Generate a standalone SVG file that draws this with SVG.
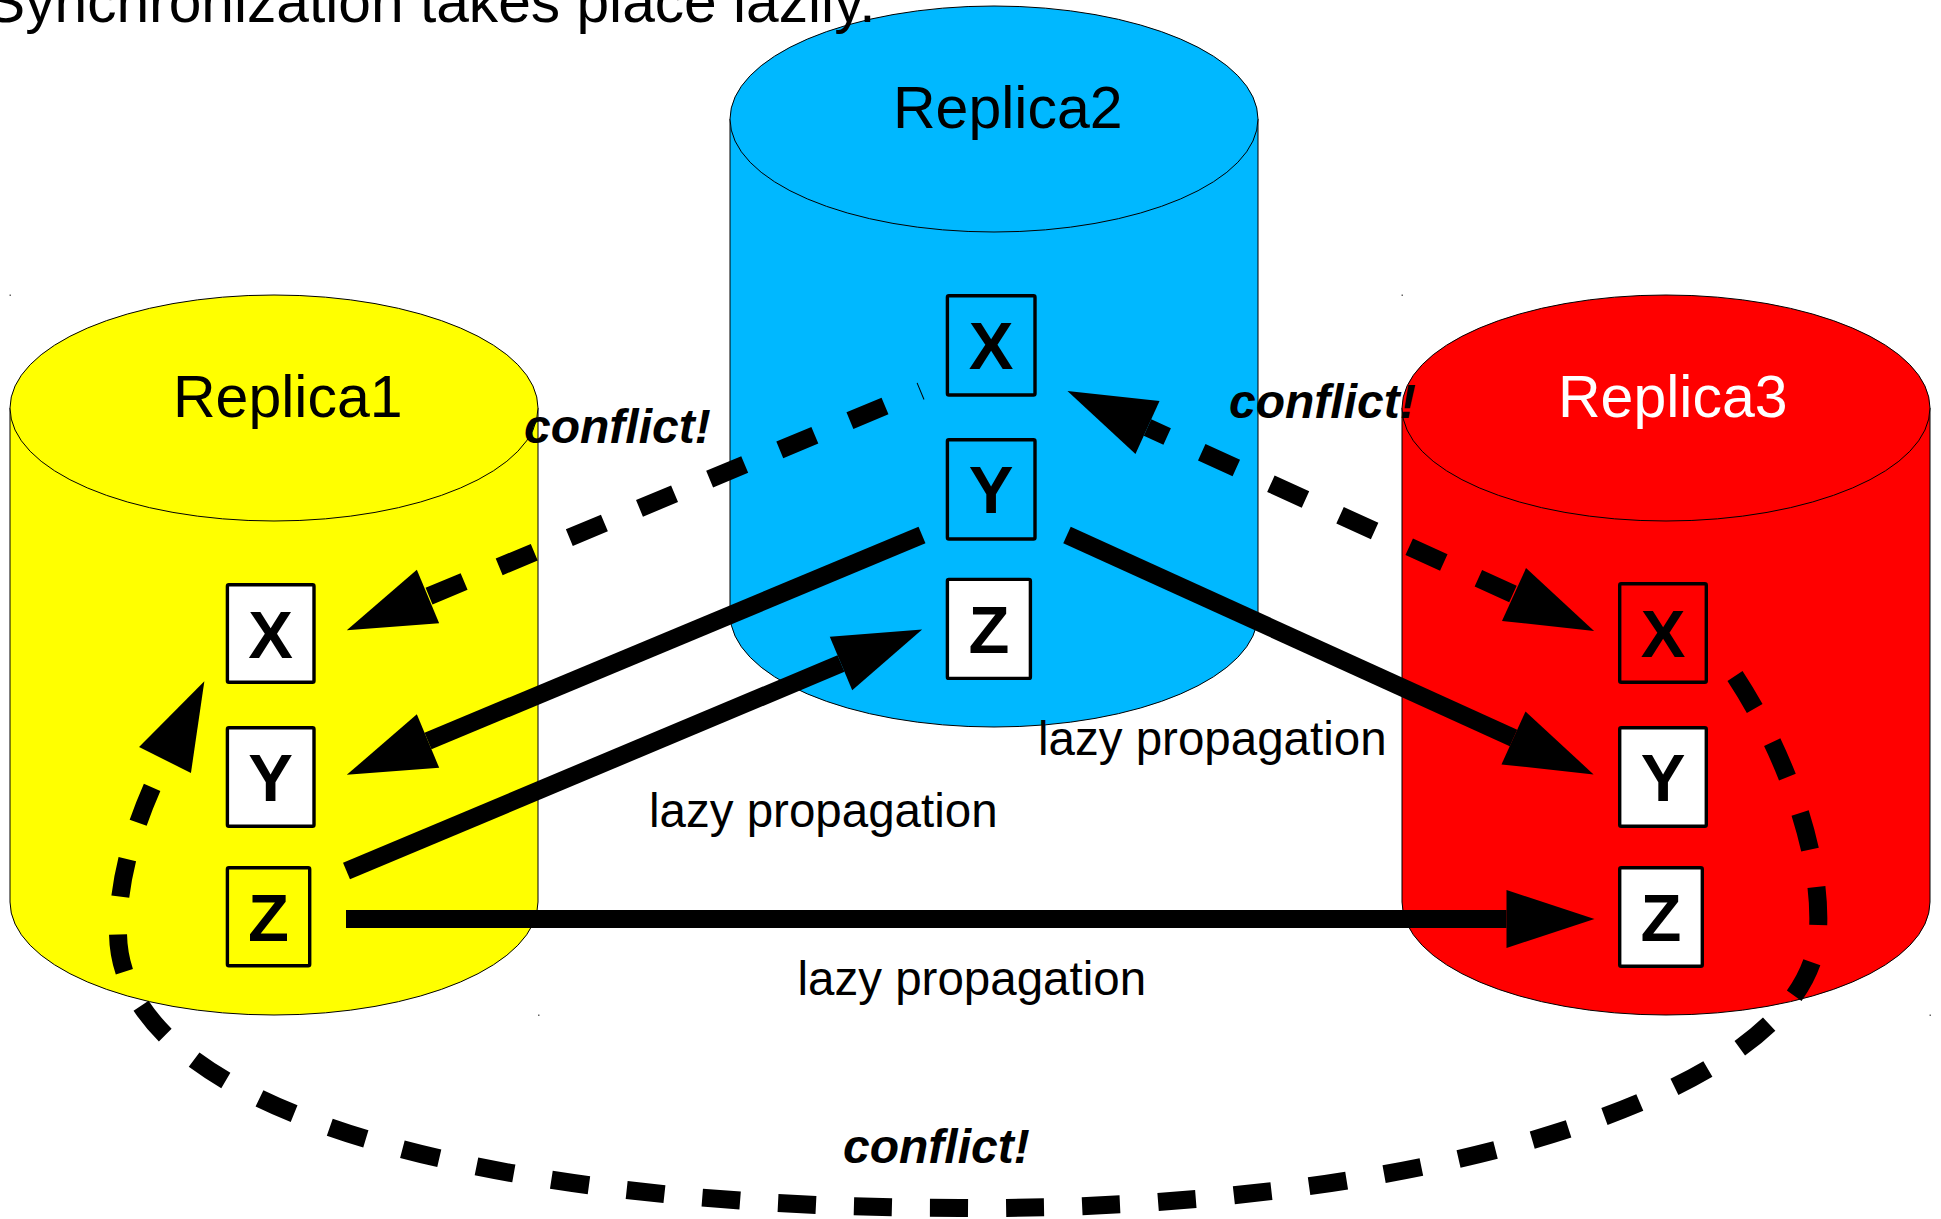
<svg xmlns="http://www.w3.org/2000/svg" width="1941" height="1219" viewBox="0 0 1941 1219">
  <style>
    .cyl { stroke: #000; stroke-width: 1; }
    .label { font-family: "Liberation Sans", Arial, sans-serif; font-size: 59px; }
    .item { fill: #fff; stroke: #000; stroke-width: 3.4; }
    .item.clear { fill: none; }
    .letter { font-family: "Liberation Sans", Arial, sans-serif; font-weight: bold; font-size: 67px; text-anchor: middle; fill: #000; }
    .solid { fill: none; stroke: #000; stroke-width: 18; stroke-linecap: butt; }
    .dashed { fill: none; stroke: #000; stroke-width: 18; stroke-linecap: butt; stroke-dasharray: 38 38; }
    .note { font-family: "Liberation Sans", Arial, sans-serif; font-size: 47.5px; fill: #000; }
    .conflict { font-family: "Liberation Sans", Arial, sans-serif; font-size: 48px; font-weight: bold; font-style: italic; fill: #000; }
    .dot { fill: #666; }
  </style>
  <defs>
    <marker id="head" markerUnits="userSpaceOnUse" markerWidth="88" markerHeight="58" refX="0" refY="29" orient="auto-start-reverse" overflow="visible">
      <path d="M0,0 L88,29 L0,58 Z" fill="#000"/>
    </marker>
  </defs>

  <rect width="1941" height="1219" fill="#fff"/>

  <!-- Replica1: yellow cylinder -->
  <g id="replica1">
    <path class="cyl" fill="#ffff00" d="M10,408 L10,902 A264,113 0 0 0 538,902 L538,408 Z"/>
    <ellipse class="cyl" fill="#ffff00" cx="274" cy="408" rx="264" ry="113"/>
    <text class="label" x="173" y="417">Replica1</text>
    <g id="r1-x"><rect class="item" x="227.4" y="584.7" width="86.6" height="97.6" rx="1.5"/><text class="letter" x="270.7" y="658">X</text></g>
    <g id="r1-y"><rect class="item" x="227.4" y="727.7" width="86.6" height="98.6" rx="1.5"/><text class="letter" x="270.7" y="801">Y</text></g>
    <g id="r1-z"><rect class="item clear" x="227.4" y="867.7" width="82.3" height="98" rx="1.5"/><text class="letter" x="268.5" y="941">Z</text></g>
  </g>

  <!-- Replica2: blue cylinder -->
  <g id="replica2">
    <path class="cyl" fill="#00b8ff" d="M730,119 L730,614 A264,113 0 0 0 1258,614 L1258,119 Z"/>
    <ellipse class="cyl" fill="#00b8ff" cx="994" cy="119" rx="264" ry="113"/>
    <text class="label" x="893" y="128">Replica2</text>
    <g id="r2-x"><rect class="item clear" x="947.4" y="295.7" width="87.6" height="99.3" rx="1.5"/><text class="letter" x="991.2" y="369">X</text></g>
    <g id="r2-y"><rect class="item clear" x="947.4" y="439.7" width="87.6" height="99.3" rx="1.5"/><text class="letter" x="991.2" y="513">Y</text></g>
    <g id="r2-z"><rect class="item" x="947.4" y="579.4" width="83" height="99" rx="1.5"/><text class="letter" x="989" y="653">Z</text></g>
  </g>

  <!-- Replica3: red cylinder -->
  <g id="replica3">
    <path class="cyl" fill="#ff0000" d="M1402,408 L1402,902 A264,113 0 0 0 1930,902 L1930,408 Z"/>
    <ellipse class="cyl" fill="#ff0000" cx="1666" cy="408" rx="264" ry="113"/>
    <text class="label" x="1558" y="417" fill="#fff">Replica3</text>
    <g id="r3-x"><rect class="item clear" x="1619.7" y="583.7" width="86.6" height="98.6" rx="1.5"/><text class="letter" x="1663" y="657">X</text></g>
    <g id="r3-y"><rect class="item" x="1619.7" y="727.7" width="86.6" height="98.6" rx="1.5"/><text class="letter" x="1663" y="801">Y</text></g>
    <g id="r3-z"><rect class="item" x="1619.7" y="867.7" width="82.6" height="98.6" rx="1.5"/><text class="letter" x="1661" y="941">Z</text></g>
  </g>

  <!-- propagation and conflict connectors -->
  <g id="connectors">
    <path class="solid" d="M922,535 L428,741" marker-end="url(#head)"/>
    <path class="solid" d="M346.5,871 L841,663.5" marker-end="url(#head)"/>
    <path class="solid" d="M1067,535 L1513.5,738" marker-end="url(#head)"/>
    <path class="solid" d="M346,919 L1506.5,919" marker-end="url(#head)"/>
    <path class="dashed" style="stroke-dashoffset:37" d="M921,391 L428,596.5" marker-end="url(#head)"/>
    <path class="dashed" style="stroke-dashoffset:16.4" d="M1147.5,427.5 L1514,594.5" marker-start="url(#head)" marker-end="url(#head)"/>
    <path class="dashed" d="M1735,676 C1790,760 1822,860 1818,930 C1812,1100 1400,1212 960,1208 C480,1208 118,1110 118,932 C118,870 140,810 165,760" marker-end="url(#head)"/>
  </g>

  <!-- connector labels -->
  <g id="labels">
    <text class="note" x="649" y="827">lazy propagation</text>
    <text class="note" x="1038" y="755">lazy propagation</text>
    <text class="note" x="797.5" y="995">lazy propagation</text>
    <text class="conflict" x="524" y="443">conflict!</text>
    <text class="conflict" x="1229" y="418">conflict!</text>
    <text class="conflict" x="843" y="1163">conflict!</text>
  </g>

  <!-- corner marks -->
  <g id="marks">
    <rect class="dot" x="9.5" y="294.5" width="1.5" height="1.5"/>
    <rect class="dot" x="1401.5" y="294.5" width="1.5" height="1.5"/>
    <rect class="dot" x="538" y="1014.5" width="1.5" height="1.5"/>
    <rect class="dot" x="1929.5" y="1014.5" width="1.5" height="1.5"/>
  </g>

  <text class="label" x="-14" y="22" style="font-size:58.7px">Synchronization takes place lazily.</text>
</svg>
